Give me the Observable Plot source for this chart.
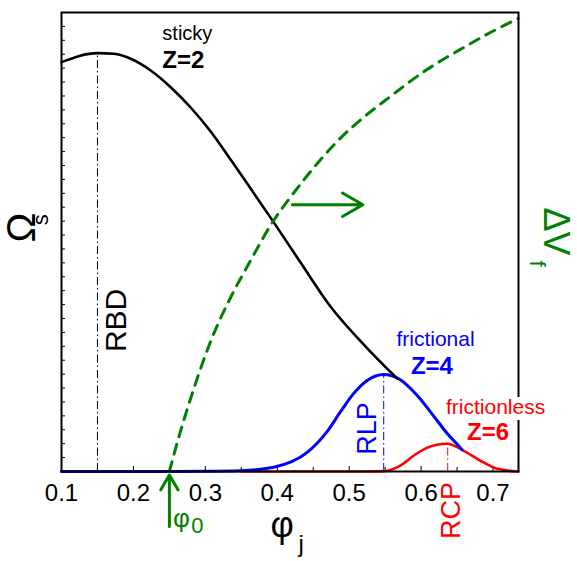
<!DOCTYPE html>
<html><head><meta charset="utf-8">
<script src="https://cdn.jsdelivr.net/npm/d3@7"></script>
<script src="https://cdn.jsdelivr.net/npm/@observablehq/plot@0.6"></script>
<style>body{margin:0;background:#fff;}</style>
</head><body><div id="chart"></div>
<script>
// ---- data ----
const xTicks = [0.1, 0.2, 0.3, 0.4, 0.5, 0.6, 0.7];
const xMinorTicks = [0.15, 0.25, 0.35, 0.45, 0.55, 0.65];
const yTicks = [0,1,2,3,4,5,6,7,8,9,10,11,12,13,14,15,16,17,18,19,20,21,22,23,24,25,26,27,28,29,30,31,32,33];

// sticky, Z=2 (black)
const stickyPhi   = [0.1, 0.15, 0.1726, 0.1963, 0.224, 0.2518, 0.2796, 0.3074, 0.3351, 0.3629, 0.3949, 0.4324, 0.474, 0.5268, 0.567];
const stickyOmega = [29.43, 30.08, 30.03, 29.67, 28.83, 27.63, 26.17, 24.45, 22.43, 20.35, 17.93, 15.02, 11.86, 8.77, 6.67];
// frictional, Z=4 (blue)
const frictionalPhi   = [0.1, 0.2, 0.3, 0.349, 0.395, 0.442, 0.469, 0.488, 0.506, 0.525, 0.548, 0.571, 0.594, 0.618, 0.636, 0.652, 0.657];
const frictionalOmega = [0, 0, 0.02, 0.06, 0.31, 1.39, 2.85, 4.3, 5.6, 6.55, 6.97, 6.6, 5.5, 3.95, 2.75, 1.85, 1.56];
// frictionless, Z=6 (red)
const frictionlessPhi   = [0.35, 0.45, 0.52, 0.548, 0.571, 0.590, 0.608, 0.636, 0.657, 0.682, 0.706, 0.735];
const frictionlessOmega = [0, 0, 0, 0.03, 0.43, 1.15, 1.7, 1.99, 1.56, 0.79, 0.19, 0];
// Delta V_f (green dashed)
const dvPhi = [0.25, 0.2629, 0.2772, 0.3097, 0.3351, 0.3629, 0.3931, 0.4185, 0.4556, 0.4833, 0.525, 0.5481, 0.6083, 0.6592, 0.6962, 0.735];
const dvVal = [0, 2.44, 4.87, 9.66, 12.51, 15.17, 17.90, 19.73, 22.14, 23.73, 25.67, 26.60, 28.90, 30.48, 31.56, 32.57];

// special packings: phi and peak height
const packingNames = ["RBD", "RLP", "RCP"];
const packingPhi = [0.15, 0.548, 0.637];
const packingPeak = [30.08, 6.97, 1.99];
const phi0 = 0.25;

// ---- build tables ----
const toRows = (xs, ys) => xs.map((x, i) => ({x, y: ys[i]}));
const sticky = toRows(stickyPhi, stickyOmega);
const frictional = toRows(frictionalPhi, frictionalOmega);
const frictionless = toRows(frictionlessPhi, frictionlessOmega);
const dv = toRows(dvPhi, dvVal);
const packings = packingNames.map((n, i) => ({name: n, x: packingPhi[i], peak: packingPeak[i]}));

const GREEN = "#008000", BLUE = "#0000ff", RED = "#ff0000";
const FONT = "Liberation Sans, Arial, sans-serif";
const dashDot = "8,3,1.5,3";
const W = 577, H = 561, ML = 61, MR = 59, MT = 12, MB = 90;
const innerW = W - ML - MR, innerH = H - MT - MB;

const label = (t, x, y, o = {}) => Plot.text([t], {x, y, text: d => d, fontFamily: FONT, ...o});

const chart = Plot.plot({
  width: W,
  height: H,
  marginLeft: ML,
  marginRight: MR,
  marginTop: MT,
  marginBottom: MB,
  x: {domain: [0.1, 0.7354]},
  y: {domain: [0, 33], axis: null},
  style: {fontFamily: FONT, background: "white"},
  marks: [
    // axes: labels + inward ticks
    Plot.axisX(xTicks, {tickSize: 0, tickPadding: 12, fontSize: 24, fill: "black", tickFormat: d => d.toFixed(1), label: null}),
    Plot.tickX(xTicks, {x: d => d, insetTop: innerH - 5, stroke: "black", strokeWidth: 1}),
    Plot.tickX(xMinorTicks, {x: d => d, insetTop: innerH - 4, stroke: "black", strokeWidth: 1}),
    Plot.tickY(yTicks, {y: d => d, insetRight: innerW - 4, stroke: "black", strokeWidth: 1}),
    // vertical dash-dot markers
    Plot.ruleX([packings[0]], {x: "x", y1: 0, y2: "peak", stroke: "black", strokeWidth: 1, strokeDasharray: dashDot}),
    Plot.ruleX([packings[1]], {x: "x", y1: 0, y2: "peak", stroke: BLUE, strokeWidth: 1, strokeDasharray: dashDot}),
    Plot.ruleX([packings[2]], {x: "x", y1: 0, y2: "peak", stroke: RED, strokeWidth: 1, strokeDasharray: dashDot}),
    // curves
    Plot.line(frictionless, {x: "x", y: "y", stroke: RED, strokeWidth: 2.6, curve: "monotone-x"}),
    Plot.line(frictional, {x: "x", y: "y", stroke: BLUE, strokeWidth: 3, curve: "monotone-x"}),
    Plot.line(sticky, {x: "x", y: "y", stroke: "black", strokeWidth: 2.6, curve: "monotone-x"}),
    Plot.line(dv, {x: "x", y: "y", stroke: GREEN, strokeWidth: 3, strokeDasharray: "10,8", curve: "monotone-x"}),
    // arrows
    Plot.arrow([{x1: 0.421, x2: 0.519, y: 19.18}], {x1: "x1", x2: "x2", y1: "y", y2: "y", stroke: GREEN, strokeWidth: 3, headLength: 14}),
    Plot.arrow([{x: phi0, y1: -3.95, y2: -0.25}], {x1: "x", x2: "x", y1: "y1", y2: "y2", stroke: GREEN, strokeWidth: 3, headLength: 14}),
    Plot.frame({stroke: "black", strokeWidth: 2}),
    // annotations
    label("sticky", 0.275, 31.49, {fontSize: 20}),
    label("Z=2", 0.2694, 29.55, {fontSize: 24, fontWeight: "bold"}),
    label("frictional", 0.620, 9.49, {fontSize: 21, fill: BLUE}),
    label("Z=4", 0.615, 7.55, {fontSize: 24, fontWeight: "bold", fill: BLUE}),
    label("frictionless", 0.7035, 4.6, {fontSize: 21, fill: RED, stroke: "white", strokeWidth: 12}),
    label("Z=6", 0.693, 2.85, {fontSize: 24, fontWeight: "bold", fill: RED}),
    label(packingNames[0], 0.1764, 10.86, {fontSize: 30, rotate: -90}),
    label(packingNames[1], 0.5246, 3.09, {fontSize: 27, rotate: -90, fill: BLUE}),
    label(packingNames[2], 0.6417, -2.80, {fontSize: 27, rotate: -90, fill: RED}),
    label("φ", 0.2667, -3.38, {fontSize: 26, fill: GREEN}),
    label("0", 0.2889, -3.95, {fontSize: 22, fill: GREEN}),
    label("φ", 0.4069, -3.88, {fontSize: 36}),
    label("j", 0.4333, -5.25, {fontSize: 24}),
    label("Ω", 0.0451, 17.54, {fontSize: 40, rotate: -90}),
    label("s", 0.0715, 18.1, {fontSize: 22, rotate: -90}),
    label("ΔV", 0.7865, 17.25, {fontSize: 36, rotate: 90, fill: GREEN}),
    label("f", 0.7611, 14.95, {fontSize: 22, rotate: 90, fill: GREEN})
  ]
});
document.getElementById("chart").appendChild(chart);
</script>
</body></html>
